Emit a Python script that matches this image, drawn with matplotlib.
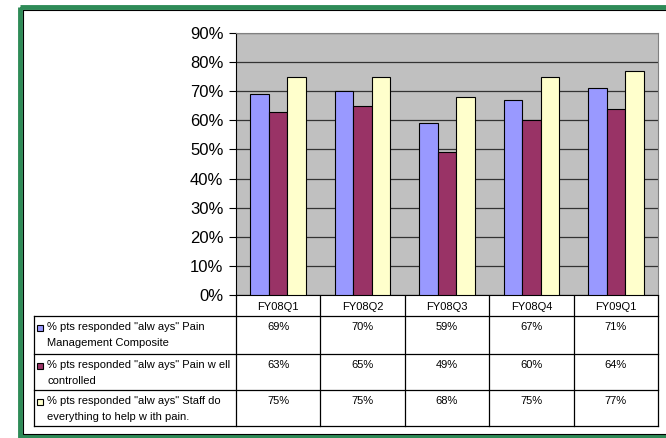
import numpy as np
import matplotlib.pyplot as plt
from matplotlib.patches import Rectangle

plt.rcParams['font.family'] = ['Liberation Sans', 'DejaVu Sans']

categories = ['FY08Q1', 'FY08Q2', 'FY08Q3', 'FY08Q4', 'FY09Q1']
composite = [69, 70, 59, 67, 71]
well_controlled = [63, 65, 49, 60, 64]
staff_help = [75, 75, 68, 75, 77]
series_labels = ['% pts responded "alw ays" Pain\nManagement Composite',
                 '% pts responded "alw ays" Pain w ell\ncontrolled',
                 '% pts responded "alw ays" Staff do\neverything to help w ith pain.']
colors = ['#9999FF', '#993366', '#FFFFCC']

W, H = 666, 438
fig = plt.figure(figsize=(W / 100, H / 100), dpi=100)

# overlay axes in pixel coords for border and table
ov = fig.add_axes([0, 0, 1, 1])
ov.set_xlim(0, W)
ov.set_ylim(H, 0)
ov.axis('off')
ov.add_patch(Rectangle((20, 7), 660, 429, fill=False, edgecolor='#2E8B57', lw=3.5))
ov.add_patch(Rectangle((22.5, 9.5), 660, 424.5, fill=False, edgecolor='black', lw=0.8))

# plot area
x0, x1, y0, y1 = 236, 658, 33, 295
ax = fig.add_axes([x0 / W, 1 - y1 / H, (x1 - x0) / W, (y1 - y0) / H])
ax.set_facecolor('#C0C0C0')
x = np.arange(len(categories))
bw = 0.22
for i, vals in enumerate([composite, well_controlled, staff_help]):
    ax.bar(x + (i - 1) * bw, vals, bw, color=colors[i], edgecolor='black', linewidth=0.8, zorder=3)
ax.set_xlim(-0.5, len(categories) - 0.5)
ax.set_ylim(0, 90)
ax.set_yticks(range(0, 91, 10))
ax.set_yticklabels([f'{v}%' for v in range(0, 91, 10)], fontsize=12)
ax.tick_params(axis='y', length=5, width=0.8, pad=4)
ax.set_xticks([])
ax.yaxis.grid(True, color='#333333', linewidth=0.9, zorder=1)
for s in ['top', 'right']:
    ax.spines[s].set_color('#808080')
ax.spines['left'].set_color('black')
ax.spines['bottom'].set_color('black')

# data table
tl = 34
col_w = (x1 - x0) / len(categories)
row_y = [295, 316, 354, 390, 426]
lw = 0.9
for k in range(len(categories) + 1):
    ov.plot([x0 + k * col_w] * 2, [row_y[0], row_y[-1]], color='black', lw=lw)
ov.plot([tl, tl], [row_y[1], row_y[-1]], color='black', lw=lw)
for yy in row_y[1:]:
    ov.plot([tl, x1], [yy, yy], color='black', lw=lw)
for k, c in enumerate(categories):
    ov.text(x0 + (k + 0.5) * col_w, (row_y[0] + row_y[1]) / 2 + 1, c,
            ha='center', va='center', fontsize=8)
for r, vals in enumerate([composite, well_controlled, staff_help]):
    top = row_y[r + 1]
    ov.add_patch(Rectangle((37, top + 9), 6, 6, facecolor=colors[r], edgecolor='black', lw=0.8))
    ov.text(47, top + 6, series_labels[r], ha='left', va='top', fontsize=8, linespacing=1.75)
    for k, v in enumerate(vals):
        ov.text(x0 + (k + 0.5) * col_w, top + 6, f'{v}%', ha='center', va='top', fontsize=8)

fig.savefig('out.png', dpi=100)
